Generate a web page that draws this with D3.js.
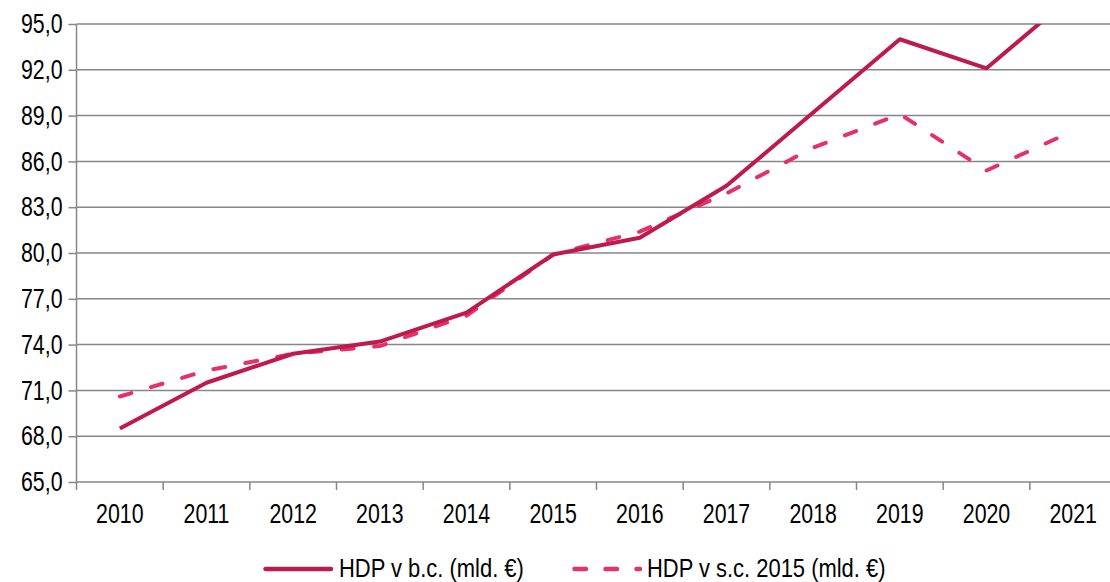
<!DOCTYPE html>
<html>
<head>
<meta charset="utf-8">
<script src="https://cdn.jsdelivr.net/npm/d3@7"></script>
<style>
  body { margin: 0; background: #fff; overflow: hidden; }
  text { font-family: "Liberation Sans", Arial, sans-serif; fill: #000; }
</style>
</head>
<body>
<script>
// years on x axis
var years = ["2010", "2011", "2012", "2013", "2014", "2015", "2016", "2017", "2018", "2019", "2020", "2021"];
// GDP in current prices (bn EUR)
var hdpBc = [68.5, 71.5, 73.4, 74.2, 76.1, 79.9, 81.0, 84.4, 89.2, 94.0, 92.1, 96.9];
// GDP in constant prices 2015 (bn EUR)
var hdpSc = [70.6, 72.3, 73.4, 73.9, 75.9, 79.9, 81.4, 83.9, 86.9, 89.1, 85.4, 88.0];
var yTicks = [65, 68, 71, 74, 77, 80, 83, 86, 89, 92, 95];
var seriesNames = ["HDP v b.c. (mld. €)", "HDP v s.c. 2015 (mld. €)"];

var svgWidth = 1110;
var svgHeight = 582;
var margin = { top: 24, left: 76.5 };
// plot runs a bit past the right edge of the picture
var width = 1040;
var height = 482 - margin.top;
var gridColor = "#878787";
var solidColor = "#BE1A4C";
var dashColor = "#E5306A";
var fontSize = 27;
var legendFontSize = 25.5;
var squeeze = 0.79; // tick labels are narrow
var legendSqueeze = 0.86;

var svg = d3.select("body").append("svg")
  .attr("width", svgWidth)
  .attr("height", svgHeight);

var chartGroup = svg.append("g")
  .attr("transform", `translate(${margin.left}, ${margin.top})`);

var xScale = d3.scaleBand()
  .domain(years)
  .range([0, width]);

var yScale = d3.scaleLinear()
  .domain([65, 95])
  .range([height, 0]);

// gridlines
chartGroup.append("g")
  .selectAll("line")
  .data(yTicks)
  .enter()
  .append("line")
  .attr("x1", 0)
  .attr("x2", width)
  .attr("y1", d => yScale(d))
  .attr("y2", d => yScale(d))
  .attr("stroke", gridColor)
  .attr("stroke-width", 1.5);

// y axis
var leftAxis = d3.axisLeft(yScale)
  .tickValues(yTicks)
  .tickSize(8)
  .tickPadding(6)
  .tickFormat(d => d3.format(".1f")(d).replace(".", ","));

var yAxis = chartGroup.append("g").call(leftAxis);
yAxis.select(".domain").attr("d", `M0,0V${height + 8}`);

// x axis, ticks sit between categories
var bottomAxis = d3.axisBottom(xScale).tickSize(0).tickPadding(22);
var xAxis = chartGroup.append("g")
  .attr("transform", `translate(0, ${height})`)
  .call(bottomAxis);
xAxis.select(".domain").remove();

chartGroup.append("g")
  .selectAll("line")
  .data(years.slice(1))
  .enter()
  .append("line")
  .attr("x1", d => xScale(d))
  .attr("x2", d => xScale(d))
  .attr("y1", height)
  .attr("y2", height + 8)
  .attr("stroke", gridColor)
  .attr("stroke-width", 1.5);

chartGroup.selectAll(".tick line").attr("stroke", gridColor).attr("stroke-width", 1.5);
yAxis.select(".domain").attr("stroke", gridColor).attr("stroke-width", 1.5);
chartGroup.selectAll(".tick text")
  .attr("font-size", fontSize)
  .attr("fill", "#000")
  .style("font-family", "'Liberation Sans', Arial, sans-serif");

// squeeze tick labels horizontally
chartGroup.selectAll(".tick text").each(function() {
  var w = this.getComputedTextLength();
  d3.select(this)
    .attr("textLength", w * squeeze)
    .attr("lengthAdjust", "spacingAndGlyphs");
});

// clip lines at the plot top
svg.append("clipPath").attr("id", "clip")
  .append("rect").attr("x", 0).attr("y", 0).attr("width", width).attr("height", height);

var line = d3.line()
  .x((d, i) => xScale(years[i]) + xScale.bandwidth() / 2)
  .y(d => yScale(d));

var plot = chartGroup.append("g").attr("clip-path", "url(#clip)");

plot.append("path")
  .attr("d", line(hdpSc))
  .attr("fill", "none")
  .attr("stroke", dashColor)
  .attr("stroke-width", 4)
  .attr("stroke-linecap", "round")
  .attr("stroke-dasharray", "12,20.5");

plot.append("path")
  .attr("d", line(hdpBc))
  .attr("fill", "none")
  .attr("stroke", solidColor)
  .attr("stroke-width", 4)
  .attr("stroke-linejoin", "round");

// legend
var legend = svg.append("g");
legend.append("line")
  .attr("x1", 265.5).attr("x2", 331).attr("y1", 569).attr("y2", 569)
  .attr("stroke", solidColor).attr("stroke-width", 4.5).attr("stroke-linecap", "round");
legend.append("text")
  .attr("x", 339).attr("y", 576.5)
  .attr("font-size", legendFontSize)
  .text(seriesNames[0]);

legend.append("line")
  .attr("x1", 574.5).attr("x2", 640).attr("y1", 569).attr("y2", 569)
  .attr("stroke", dashColor).attr("stroke-width", 4.5).attr("stroke-linecap", "round")
  .attr("stroke-dasharray", "11.5,19.5");
legend.append("text")
  .attr("x", 647).attr("y", 576.5)
  .attr("font-size", legendFontSize)
  .text(seriesNames[1]);

legend.selectAll("text").each(function() {
  var w = this.getComputedTextLength();
  d3.select(this)
    .attr("textLength", w * legendSqueeze)
    .attr("lengthAdjust", "spacingAndGlyphs");
});
</script>
</body>
</html>
